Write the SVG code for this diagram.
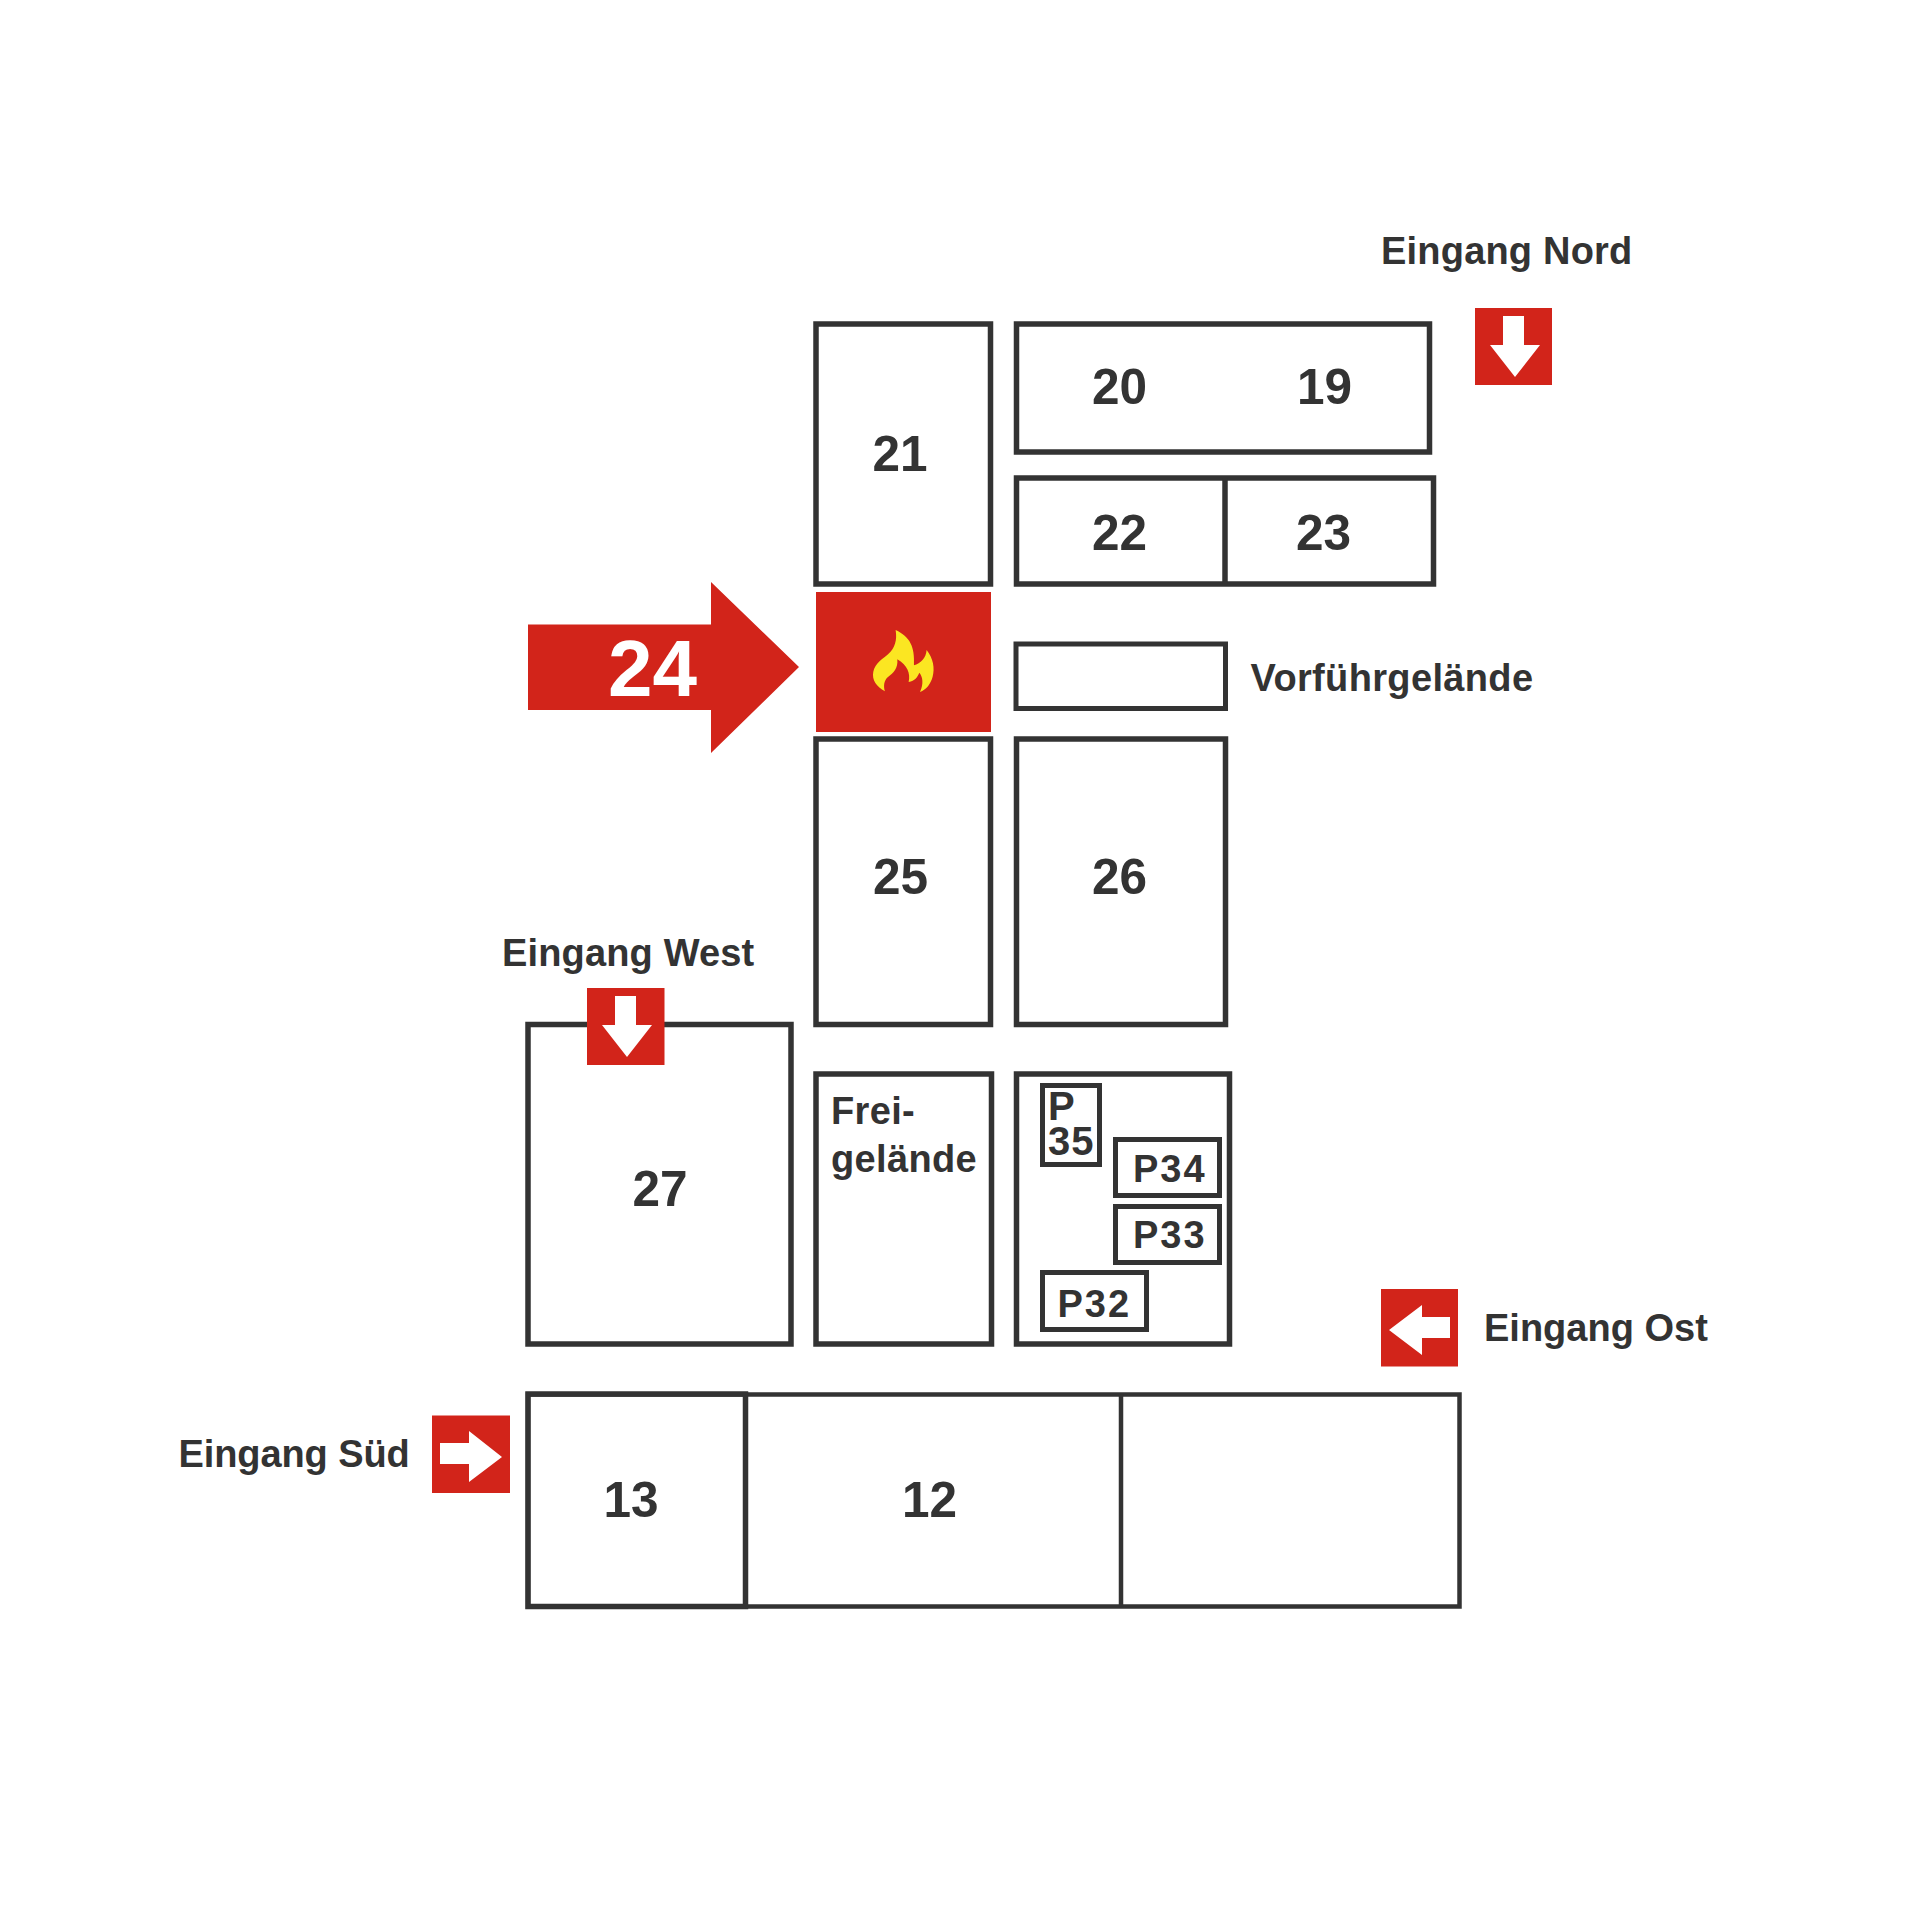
<svg xmlns="http://www.w3.org/2000/svg" width="1920" height="1920" viewBox="0 0 1920 1920">
<style>
.b{fill:#fff;stroke:#333;stroke-width:5.5}
.p{fill:#fff;stroke:#333;stroke-width:5}
.t{fill:none;stroke:#333;stroke-width:4.5}
.r{fill:#d2241a}
.w{fill:#fff}
text{font-family:"Liberation Sans",Arial,sans-serif;font-weight:700;fill:#333}
.n{font-size:49.5px}
.l{font-size:38px}
.f{font-size:38px;letter-spacing:.35px}
.q{font-size:38px;letter-spacing:2px}
</style>
<rect width="1920" height="1920" fill="#fff"/>
<g id="hall-21"><rect class="b" x="816" y="324" width="174.500" height="260"/><text class="n" x="872.500" y="470.500">21</text></g>
<g id="hall-20-19"><rect class="b" x="1016.500" y="324" width="413" height="128"/><text class="n" x="1092" y="403.500">20</text><text class="n" x="1297" y="403.500">19</text></g>
<g id="hall-22-23"><rect class="b" x="1016.500" y="478" width="417" height="106"/><path class="b" d="M1225 478V584"/><text class="n" x="1092" y="549.500">22</text><text class="n" x="1296" y="549.500">23</text></g>
<g id="hall-24"><rect class="r" x="816" y="592" width="175" height="140"/><path d="M1187 210C1230 230 1245 260 1242 316C1262 310 1278 295 1280 270C1300 295 1305 325 1298 350C1292 372 1280 388 1260 396C1272 370 1268 350 1258 338C1252 352 1245 362 1226 366C1232 340 1222 315 1192 298C1195 325 1180 340 1165 350C1152 360 1150 378 1155 394C1130 380 1115 360 1120 335C1125 310 1150 295 1165 282C1185 265 1192 240 1187 210Z" transform="translate(500 560) scale(.3333)" fill="#fbe622"/></g>
<g id="pointer-24"><path class="r" d="M528 624.500H711V582L799 667L711 753V710H528Z"/><text x="608" y="696" font-size="80" style="fill:#fff">24</text></g>
<g id="vorfuehrgelaende"><rect class="p" x="1016" y="644" width="209.500" height="64.500"/><text class="f" x="1250.500" y="690.500">Vorführgelände</text></g>
<g id="hall-25"><rect class="b" x="816" y="739" width="174.500" height="285.500"/><text class="n" x="873" y="893.500">25</text></g>
<g id="hall-26"><rect class="b" x="1016.500" y="739" width="209" height="285.500"/><text class="n" x="1092" y="893.500">26</text></g>
<g id="hall-27"><rect class="b" x="528" y="1024.500" width="263" height="319.500"/><text class="n" x="632.500" y="1205.500">27</text></g>
<g id="freigelaende"><rect class="b" x="816" y="1074" width="175.500" height="270"/><text class="f" x="831" y="1124">Frei-</text><text class="f" x="831" y="1172">gelände</text></g>
<g id="pavilions"><rect class="b" x="1016.500" y="1074" width="213" height="270"/>
<g id="p35"><rect class="p" x="1042.500" y="1085.500" width="57" height="79"/><text font-size="40" letter-spacing="1"><tspan x="1048" y="1120">P</tspan><tspan x="1048" y="1155">35</tspan></text></g>
<g id="p34"><rect class="p" x="1115.500" y="1139.500" width="104" height="56"/><text class="q" x="1133" y="1182">P34</text></g>
<g id="p33"><rect class="p" x="1115.500" y="1206.500" width="104" height="56"/><text class="q" x="1133" y="1248">P33</text></g>
<g id="p32"><rect class="p" x="1042.500" y="1272.500" width="104" height="57"/><text class="q" x="1057.500" y="1317">P32</text></g></g>
<g id="halls-bottom"><rect class="t" x="528" y="1394.500" width="931.500" height="212"/><path class="t" d="M1121 1394.500V1606.500"/><text class="n" x="902" y="1516.500">12</text></g>
<g id="hall-13"><rect class="b" style="fill:none" x="528" y="1394" width="217.500" height="212.500"/><text class="n" x="603.500" y="1516.500">13</text></g>
<g id="eingang-nord"><text class="l" x="1381" y="264" letter-spacing=".2">Eingang Nord</text><rect class="r" x="1475" y="308" width="77" height="77"/><path class="w" d="M1503 316H1524V345H1540L1515 377L1490 345H1503Z"/></g>
<g id="eingang-west"><text class="l" x="502" y="965.500" letter-spacing=".15">Eingang West</text><rect class="r" x="587" y="988" width="77.500" height="77"/><path class="w" d="M615 996H636V1025H652L627 1057L602 1025H615Z"/></g>
<g id="eingang-ost"><text class="l" x="1484" y="1340.500">Eingang Ost</text><rect class="r" x="1381" y="1289" width="77" height="77.500"/><path class="w" d="M1450 1317V1338H1422V1355L1389 1330L1422 1305V1317Z"/></g>
<g id="eingang-sued"><text class="l" x="178.500" y="1467" letter-spacing="-.1">Eingang Süd</text><rect class="r" x="432" y="1415.500" width="78" height="77.500"/><path class="w" d="M440 1443H469V1431L502 1457L469 1482V1464H440Z"/></g>
</svg>
